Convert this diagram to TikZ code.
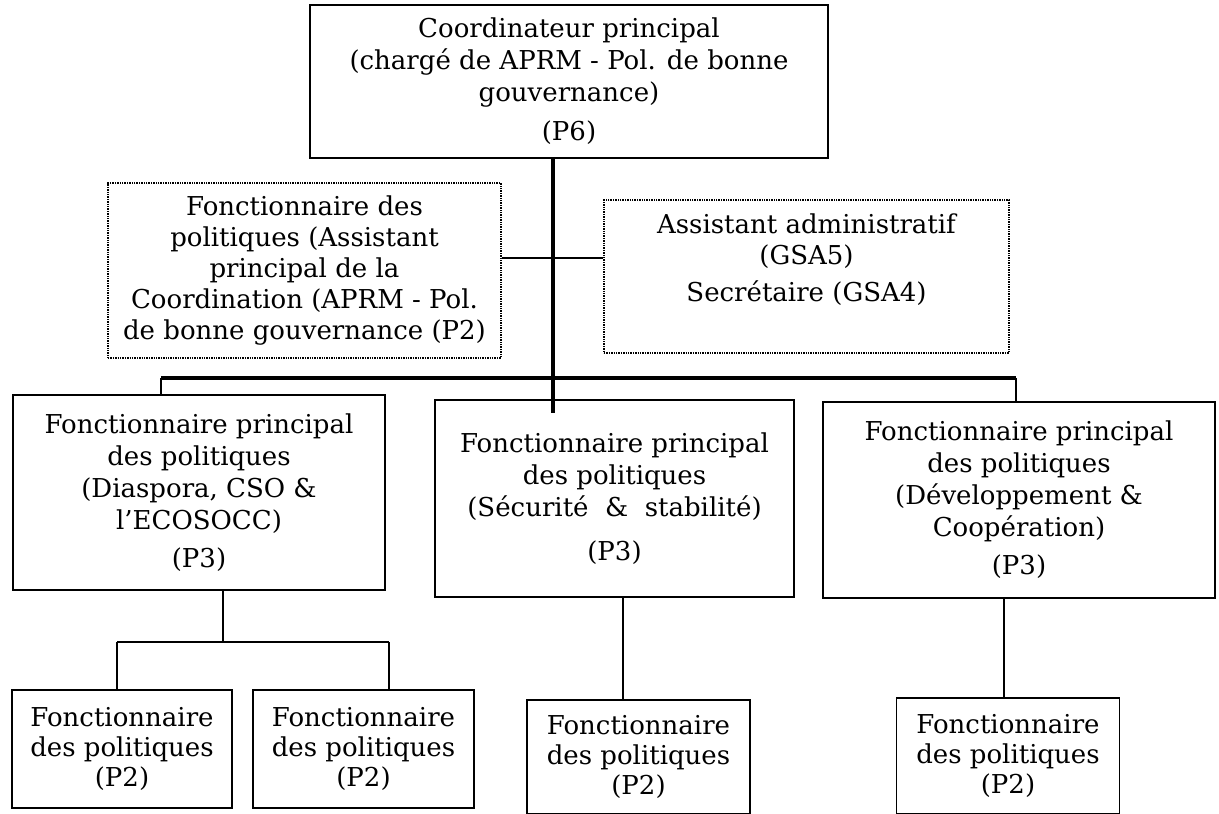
\documentclass[tikz,border=0pt]{standalone}
\usepackage{fontspec}
\setmainfont{DejaVu Serif}
\begin{document}
\begin{tikzpicture}[x=1pt,y=-1pt,
  box/.style={draw, line width=1.8pt, align=center, inner sep=0pt,
    font=\fontsize{26}{32}\selectfont},
  smallbox/.style={box, font=\fontsize{26}{30}\selectfont},
  dotbox/.style={draw, line width=1.3pt, dash pattern=on 1.4pt off 1pt,
    align=center, inner sep=0pt, font=\fontsize{26}{31}\selectfont},
  spine/.style={line width=4pt},
  bar/.style={line width=3.6pt},
  link/.style={line width=1.6pt}]
\useasboundingbox (0,0) rectangle (1219,814);
% boxes
\node[box, line width=2.2pt, minimum width=518pt, minimum height=153pt] (top) at (569,81.5)
  {Coordinateur principal\\(chargé de APRM - Pol. de bonne\\gouvernance)\\[7pt](P6)};
\node[dotbox, minimum width=393pt, minimum height=175pt] (ldot) at (304.5,270.5)
  {Fonctionnaire des\\politiques (Assistant\\principal de la\\Coordination (APRM - Pol.\\de bonne gouvernance (P2)};
\node[dotbox, minimum width=405pt, minimum height=153pt] (rdot) at (806.5,276.5)
  {Assistant administratif\\(GSA5)\\[6pt]Secrétaire (GSA4)\\[6pt]\mbox{}};
\node[box, minimum width=372pt, minimum height=195pt] (p3a) at (199,492.5)
  {Fonctionnaire principal\\des politiques\\(Diaspora, CSO \&\\l'ECOSOCC)\\[6pt](P3)};
\node[box, minimum width=359pt, minimum height=197pt] (p3b) at (614.5,498.5)
  {Fonctionnaire principal\\des politiques\\(Sécurité~~\&~~stabilité)\\[12pt](P3)};
\node[box, minimum width=392pt, minimum height=196pt] (p3c) at (1019,500)
  {Fonctionnaire principal\\des politiques\\(Développement \&\\Coopération)\\[6pt](P3)};
\node[smallbox, minimum width=220pt, minimum height=118pt] (p2a) at (122,749)
  {Fonctionnaire\\des politiques\\(P2)};
\node[smallbox, minimum width=221pt, minimum height=118pt] (p2b) at (363.5,749)
  {Fonctionnaire\\des politiques\\(P2)};
\node[smallbox, minimum width=223pt, minimum height=114pt] (p2c) at (638.5,757)
  {Fonctionnaire\\des politiques\\(P2)};
\node[smallbox, minimum width=223pt, minimum height=116pt] (p2d) at (1008,756)
  {Fonctionnaire\\des politiques\\(P2)};
% helper coordinates
\coordinate (spineend) at (553,413);
\coordinate (barl) at (161,378);
\coordinate (barr) at (1016,378);
\coordinate (midy) at (0,258);
\coordinate (adrop) at (223,642);
\coordinate (subl) at (117,642);
\coordinate (subr) at (389,642);
\coordinate (bdrop) at (623,0);
\coordinate (cdrop) at (1004,0);
% connectors
\draw[spine] (top.south -| spineend) -- (spineend);
\draw[bar] (barl) -- (barr);
\draw[link] (barl) -- (barl |- p3a.north);
\draw[link] (barr) -- (barr |- p3c.north);
\draw[link] (ldot.east |- midy) -- (rdot.west |- midy);
\draw[link] (p3a.south -| adrop) -- (adrop);
\draw[link] (subl) -- (subr);
\draw[link] (subl) -- (subl |- p2a.north);
\draw[link] (subr) -- (subr |- p2b.north);
\draw[link] (p3b.south -| bdrop) -- (p2c.north -| bdrop);
\draw[link] (p3c.south -| cdrop) -- (p2d.north -| cdrop);
\end{tikzpicture}
\end{document}
